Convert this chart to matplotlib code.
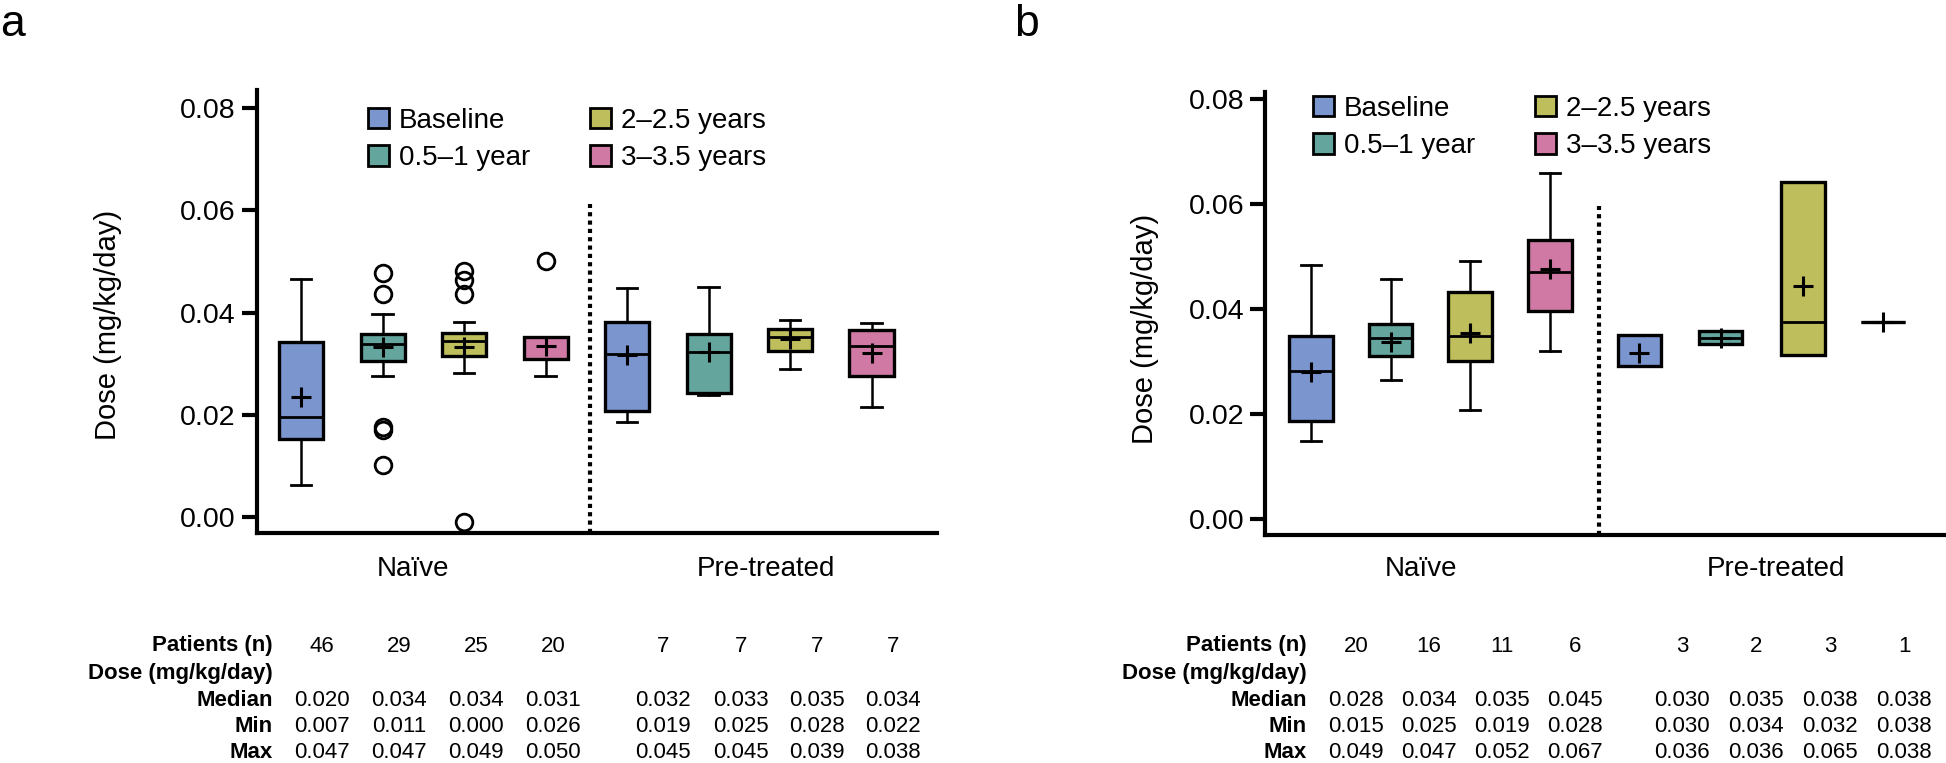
import matplotlib
matplotlib.use("Agg")
import matplotlib.pyplot as plt
from matplotlib.patches import Patch

plt.rcParams['font.family'] = ['Liberation Sans', 'DejaVu Sans']

W, H = 1946, 763

series = ['Baseline', '0.5–1 year', '2–2.5 years', '3–3.5 years']
colors = ['#7b95cf', '#64a59e', '#bfbe5c', '#cf79a4']
groups = ['Naïve', 'Pre-treated']

# panel a: naive x4 then pre-treated x4
a_whislo = [0.0064, 0.0277, 0.0282, 0.0276, 0.0186, 0.0239, 0.0290, 0.0216]
a_q1     = [0.0153, 0.0306, 0.0316, 0.0309, 0.0207, 0.0242, 0.0325, 0.0277]
a_med    = [0.0196, 0.0338, 0.0344, 0.0309, 0.0320, 0.0323, 0.0352, 0.0335]
a_q3     = [0.0342, 0.0358, 0.0361, 0.0353, 0.0382, 0.0359, 0.0368, 0.0367]
a_whishi = [0.0465, 0.0398, 0.0382, 0.0353, 0.0449, 0.0450, 0.0385, 0.0380]
a_mean   = [0.0236, 0.0332, 0.0332, 0.0334, 0.0317, 0.0323, 0.0348, 0.0322]
a_fliers = [[], [0.0477, 0.0437, 0.0177, 0.0170, 0.0102],
            [0.0482, 0.0463, 0.0436, -0.0009], [0.0501], [], [], [], []]

# panel b
b_whislo = [0.0149, 0.0266, 0.0208, 0.0321, 0.0292, 0.0333, 0.0313, 0.0375]
b_q1     = [0.0187, 0.0311, 0.0301, 0.0396, 0.0292, 0.0333, 0.0313, 0.0375]
b_med    = [0.0283, 0.0346, 0.0348, 0.0470, 0.0351, 0.0346, 0.0376, 0.0375]
b_q3     = [0.0348, 0.0371, 0.0433, 0.0531, 0.0351, 0.0358, 0.0642, 0.0375]
b_whishi = [0.0484, 0.0457, 0.0492, 0.0660, 0.0351, 0.0358, 0.0642, 0.0375]
b_mean   = [0.0280, 0.0338, 0.0354, 0.0476, 0.0316, 0.0346, 0.0445, 0.0375]
b_fliers = [[], [], [], [], [], [], [], []]

# tables under the plots
a_n      = ['46', '29', '25', '20', '7', '7', '7', '7']
a_median = ['0.020', '0.034', '0.034', '0.031', '0.032', '0.033', '0.035', '0.034']
a_min    = ['0.007', '0.011', '0.000', '0.026', '0.019', '0.025', '0.028', '0.022']
a_max    = ['0.047', '0.047', '0.049', '0.050', '0.045', '0.045', '0.039', '0.038']

b_n      = ['20', '16', '11', '6', '3', '2', '3', '1']
b_median = ['0.028', '0.034', '0.035', '0.045', '0.030', '0.035', '0.038', '0.038']
b_min    = ['0.015', '0.025', '0.019', '0.028', '0.030', '0.034', '0.032', '0.038']
b_max    = ['0.049', '0.047', '0.052', '0.067', '0.036', '0.036', '0.065', '0.038']

row_labels = ['Patients (n)', 'Dose (mg/kg/day)', 'Median', 'Min', 'Max']
yticks = [0.00, 0.02, 0.04, 0.06, 0.08]

fig = plt.figure(figsize=(W / 100, H / 100), dpi=100)


def fx(x):
    return x / W


def fy(y):
    return 1 - y / H


def panel(rect, pos, width, xlim, ylim, divider_x, divider_top,
          whislo, q1, med, q3, whishi, mean, fliers):
    ax = fig.add_axes(rect)
    stats = []
    for i in range(8):
        stats.append(dict(whislo=whislo[i], q1=q1[i], med=med[i], q3=q3[i],
                          whishi=whishi[i], mean=mean[i], fliers=fliers[i]))
    bp = ax.bxp(stats, positions=pos, widths=width, capwidths=0.25,
                showmeans=True, patch_artist=True, manage_ticks=False,
                boxprops=dict(linewidth=2.4, edgecolor='black'),
                medianprops=dict(color='black', linewidth=2),
                whiskerprops=dict(color='black', linewidth=1.8),
                capprops=dict(color='black', linewidth=2),
                meanprops=dict(marker='+', markersize=15, markeredgewidth=2.2,
                               color='black', markeredgecolor='black'),
                flierprops=dict(marker='o', markersize=12, markerfacecolor='none',
                                markeredgecolor='black', markeredgewidth=2))
    for i, box in enumerate(bp['boxes']):
        box.set_facecolor(colors[i % 4])
    ax.plot([divider_x, divider_x], [ylim[0], divider_top], color='black',
            linewidth=3, linestyle=(0, (1, 1)))
    ax.set_xlim(xlim)
    ax.set_ylim(ylim)
    ax.set_yticks(yticks)
    ax.set_yticklabels(['%.2f' % t for t in yticks])
    ax.set_xticks([])
    for s in ['top', 'right']:
        ax.spines[s].set_visible(False)
    for s in ['left', 'bottom']:
        ax.spines[s].set_linewidth(3)
    ax.tick_params(axis='y', length=11, width=3, pad=4, labelsize=20.5)
    return ax


ax_a = panel([fx(256.7), fy(532.7), fx(936.7 - 256.7), (532.7 - 90) / H],
             [1, 2, 3, 4, 5, 6, 7, 8], 0.54, (0.456, 8.8), (-0.003, 0.0835),
             4.55, 0.0613,
             a_whislo, a_q1, a_med, a_q3, a_whishi, a_mean, a_fliers)
ax_b = panel([fx(1265), fy(535), fx(1944 - 1265), (535 - 92.3) / H],
             [1, 2, 3, 4, 5.13, 6.15, 7.19, 8.19], 0.55, (0.42, 8.96), (-0.003, 0.0813),
             4.62, 0.0597,
             b_whislo, b_q1, b_med, b_q3, b_whishi, b_mean, b_fliers)

handles = [Patch(facecolor=c, edgecolor='black', linewidth=2) for c in colors]
for ax, lx, ly in [(ax_a, 368, 108), (ax_b, 1313, 96)]:
    ax.legend(handles, series, ncol=2, loc='upper left',
              bbox_to_anchor=(fx(lx), fy(ly)), bbox_transform=fig.transFigure,
              frameon=False, borderpad=0, borderaxespad=0, fontsize=20,
              handlelength=0.75, handleheight=0.75, handletextpad=0.36,
              columnspacing=2.15, labelspacing=0.4)

# panel letters, axis titles and group labels
fig.text(fx(0), fy(36), 'a', fontsize=32, ha='left', va='baseline')
fig.text(fx(1014), fy(36), 'b', fontsize=32, ha='left', va='baseline')
fig.text(fx(108), fy(325), 'Dose (mg/kg/day)', rotation=90, fontsize=21,
         ha='center', va='center')
fig.text(fx(1145), fy(329), 'Dose (mg/kg/day)', rotation=90, fontsize=21,
         ha='center', va='center')
for gx, label in zip([413, 766, 1421, 1776], groups * 2):
    fig.text(fx(gx), fy(569), label, fontsize=20, ha='center', va='center')

# summary tables
row_y = [646, 673, 700, 727, 753]
tables = [
    (273, [322, 399, 476, 553, 663, 741, 817, 893], [a_n, None, a_median, a_min, a_max]),
    (1307, [1356, 1429, 1502, 1575, 1682, 1756, 1830, 1904], [b_n, None, b_median, b_min, b_max]),
]
for label_x, col_x, rows in tables:
    for ry, lab, vals in zip(row_y, row_labels, rows):
        fig.text(fx(label_x), fy(ry), lab, fontsize=16, fontweight='bold',
                 ha='right', va='center')
        if vals is None:
            continue
        for cx, v in zip(col_x, vals):
            fig.text(fx(cx), fy(ry), v, fontsize=16, ha='center', va='center')

fig.savefig('out.png', dpi=100)
